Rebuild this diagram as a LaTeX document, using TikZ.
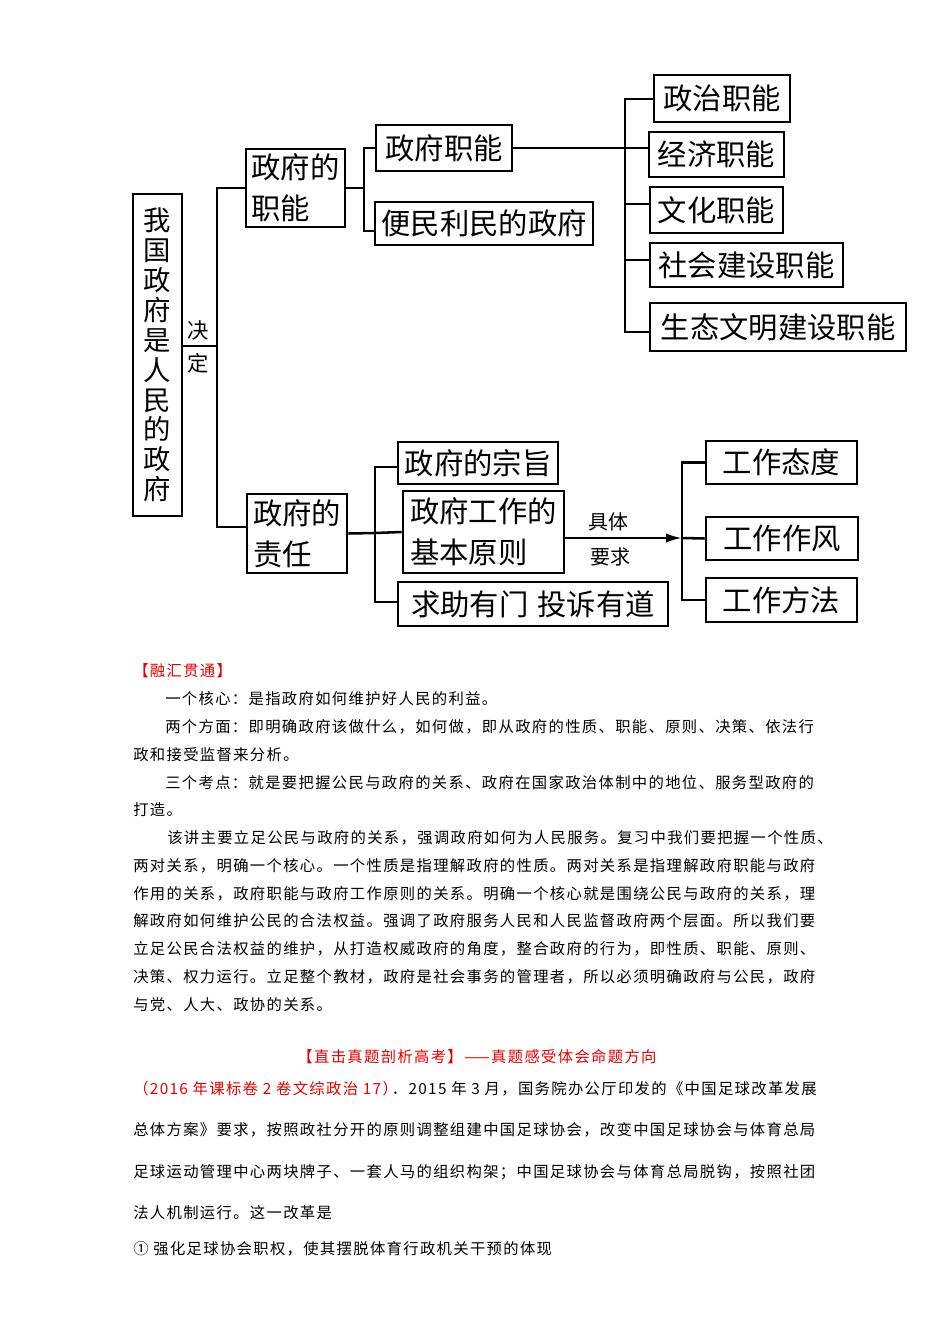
\documentclass[tikz,border=0pt]{standalone}
\usepackage{fontspec}
\setmainfont{Liberation Serif}
\newfontfamily\cjk{Noto Sans CJK SC}
\newfontfamily\cjkbody[LetterSpace=8.7]{Noto Sans CJK SC}
\usetikzlibrary{arrows.meta,calc}
\definecolor{redtxt}{RGB}{230,0,0}
\begin{document}
\begin{tikzpicture}[x=0.75pt,y=-0.75pt,
  bx/.style={draw, line width=2pt, inner sep=0pt, font=\cjk\fontsize{22}{30.75}\selectfont},
  con/.style={line width=1.9pt},
  lbl/.style={inner sep=0pt, font=\cjk\fontsize{16}{18}\selectfont},
  bodytxt/.style={anchor=west, inner sep=0pt, font=\cjkbody\fontsize{11.5}{14}\selectfont},
  redt/.style={text=redtxt}]
\fill[white] (0,0) rectangle (950,1344);
\useasboundingbox (0,0) rectangle (950,1344);

% ---------- diagram boxes ----------
\node[bx, minimum width=36.75pt, minimum height=241.5pt, align=center,
      font=\cjk\fontsize{20.5}{22.4}\selectfont] (main) at (157.5,355)
  {我\\国\\政\\府\\是\\人\\民\\的\\政\\府};
\node[bx, minimum width=74.25pt, minimum height=58.5pt, align=left] (fn) at (295.5,188) {政府的\\职能};
\node[bx, minimum width=75pt, minimum height=59.25pt, align=left] (resp) at (297,533.5) {政府的\\责任};
\node[bx, minimum width=102pt, minimum height=34.5pt] (zfzn) at (444,148) {政府职能};
\node[bx, minimum width=163.5pt, minimum height=32.25pt] (bm) at (484,223.5) {便民利民的政府};
\node[bx, minimum width=102pt, minimum height=35.25pt] (zz) at (722,98.5) {政治职能};
\node[bx, minimum width=101.25pt, minimum height=33.75pt] (jj) at (716.5,154.5) {经济职能};
\node[bx, minimum width=99.75pt, minimum height=34.5pt] (wh) at (716.5,210) {文化职能};
\node[bx, minimum width=144.75pt, minimum height=33pt] (sh) at (746.5,265) {社会建设职能};
\node[bx, minimum width=192pt, minimum height=36pt] (st) at (778,327) {生态文明建设职能};
\node[bx, minimum width=120pt, minimum height=31.5pt] (zz2) at (478,463) {政府的宗旨};
\node[bx, minimum width=120.75pt, minimum height=61.5pt, align=left] (yz) at (483.5,532) {政府工作的\\基本原则};
\node[bx, minimum width=202.5pt, minimum height=33pt, line width=2.15pt] (qz) at (533,604) {求助有门\hspace{0.3em}投诉有道};
\node[bx, minimum width=113.25pt, minimum height=32.25pt] (td) at (781.5,462.5) {工作态度};
\node[bx, minimum width=114pt, minimum height=32.25pt] (zf) at (782,538.5) {工作作风};
\node[bx, minimum width=113.25pt, minimum height=33pt] (ff) at (781.5,600) {工作方法};

% labels
\node[lbl] (jue) at (198,330) {决};
\node[lbl] (ding) at (198,363) {定};
\node[lbl, font=\cjk\fontsize{15}{16}\selectfont] (juti) at (608,522) {具体};
\node[lbl, font=\cjk\fontsize{15}{16}\selectfont] (yaoqiu) at (610,557) {要求};

% ---------- connectors ----------
\coordinate (j1) at (217,346);
\draw[con] (main.east |- j1) -- (j1);
\draw[con] (fn.west) -| (j1);
\draw[con] ($(resp.west)+(0,-6.5)$) -| (j1);

\coordinate (j2) at (364,188);
\draw[con] (fn.east) -- (j2);
\draw[con] (zfzn.west) -| (j2);
\draw[con] ($(bm.west)+(0,7.5)$) -| (j2);

\coordinate (j3) at (625,148);
\draw[con] (zfzn.east) -- (j3);
\draw[con] ($(zz.west)+(0,0.5)$) -| (j3);
\draw[con] ($(jj.west)+(0,-6.5)$) -- (j3);
\draw[con] ($(wh.west)+(0,-6)$) -| (j3);
\draw[con] ($(sh.west)+(0,-5)$) -| (j3);
\draw[con] ($(st.west)+(0,5)$) -| (j3);

\coordinate (j4) at (375,533);
\draw[con] (resp.east) -- (j4);
\draw[con] ($(zz2.west)+(0,4)$) -| (j4);
\draw[con] (j4) -- (yz.west);
\draw[con] ($(qz.west)+(0,-2)$) -| (j4);

\coordinate (j5) at (682,538);
\draw[con,-{Latex[length=12pt,width=7pt]}] ($(yz.east)+(0,6)$) -- (j5);
\draw[con] (td.west) -| (j5);
\draw[con] (j5) -- (zf.west);
\draw[con] (ff.west) -| (j5);

% ---------- body text ----------
\node[bodytxt, redt] (t0) at (133,671) {【融汇贯通】};
\node[bodytxt] (t1) at (165,699) {一个核心：是指政府如何维护好人民的利益。};
\node[bodytxt] (t2) at (165,727) {两个方面：即明确政府该做什么，如何做，即从政府的性质、职能、原则、决策、依法行};
\node[bodytxt] (t3) at (133,755) {政和接受监督来分析。};
\node[bodytxt] (t4) at (165,783) {三个考点：就是要把握公民与政府的关系、政府在国家政治体制中的地位、服务型政府的};
\node[bodytxt] (t5) at (133,810) {打造。};
\node[bodytxt] (t6) at (167,838) {该讲主要立足公民与政府的关系，强调政府如何为人民服务。复习中我们要把握一个性质、};
\node[bodytxt] (t7) at (133,866) {两对关系，明确一个核心。一个性质是指理解政府的性质。两对关系是指理解政府职能与政府};
\node[bodytxt] (t8) at (133,894) {作用的关系，政府职能与政府工作原则的关系。明确一个核心就是围绕公民与政府的关系，理};
\node[bodytxt] (t9) at (133,921) {解政府如何维护公民的合法权益。强调了政府服务人民和人民监督政府两个层面。所以我们要};
\node[bodytxt] (t10) at (133,949) {立足公民合法权益的维护，从打造权威政府的角度，整合政府的行为，即性质、职能、原则、};
\node[bodytxt] (t11) at (133,977) {决策、权力运行。立足整个教材，政府是社会事务的管理者，所以必须明确政府与公民，政府};
\node[bodytxt] (t12) at (133,1005) {与党、人大、政协的关系。};

\node[bodytxt, redt, anchor=center] (h2) at (477,1057) {【直击真题剖析高考】——真题感受体会命题方向};
\node[bodytxt, redt] (q0a) at (133,1089) {（2016 年课标卷 2 卷文综政治 17）};
\node[bodytxt, anchor=east] (q0b) at (817,1089) {．2015 年 3 月，国务院办公厅印发的《中国足球改革发展};
\node[bodytxt] (q1) at (133,1130) {总体方案》要求，按照政社分开的原则调整组建中国足球协会，改变中国足球协会与体育总局};
\node[bodytxt] (q2) at (133,1172) {足球运动管理中心两块牌子、一套人马的组织构架；中国足球协会与体育总局脱钩，按照社团};
\node[bodytxt] (q3) at (133,1213) {法人机制运行。这一改革是};
\node[bodytxt] (q4) at (133,1249) {① 强化足球协会职权，使其摆脱体育行政机关干预的体现};
\end{tikzpicture}
\end{document}
